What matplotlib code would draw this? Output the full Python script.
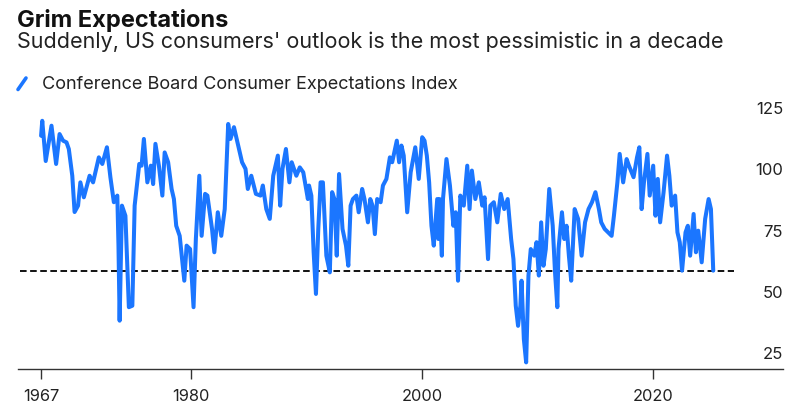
import matplotlib
matplotlib.use("Agg")
import matplotlib.pyplot as plt
from matplotlib.lines import Line2D

# Conference Board Consumer Expectations Index (decimal year, index value)
years = [
    1967.0, 1967.1, 1967.4, 1967.9, 1968.3, 1968.6, 1968.9, 1969.2, 1969.4, 1969.7,
    1969.9, 1970.2, 1970.4, 1970.7, 1971.2, 1971.5, 1972.0, 1972.3, 1972.7, 1973.0,
    1973.3, 1973.6, 1973.7, 1973.8, 1974.0, 1974.3, 1974.6, 1974.9, 1975.1, 1975.5,
    1975.7, 1975.9, 1976.2, 1976.5, 1976.7, 1976.9, 1977.2, 1977.5, 1977.7, 1978.0,
    1978.3, 1978.5, 1978.7, 1979.0, 1979.4, 1979.6, 1979.9, 1980.2, 1980.4, 1980.7,
    1980.9, 1981.2, 1981.4, 1981.8, 1982.0, 1982.3, 1982.6, 1982.9, 1983.2, 1983.4,
    1983.7, 1984.0, 1984.4, 1984.7, 1984.9, 1985.2, 1985.6, 1986.0, 1986.2, 1986.5,
    1986.8, 1987.1, 1987.5, 1987.7, 1987.9, 1988.2, 1988.5, 1988.7, 1989.1, 1989.4,
    1989.7, 1989.9, 1990.1, 1990.2, 1990.4, 1990.6, 1990.8, 1991.0, 1991.2, 1991.4,
    1991.7, 1992.0, 1992.2, 1992.4, 1992.6, 1992.8, 1993.1, 1993.4, 1993.6, 1993.8,
    1994.0, 1994.3, 1994.5, 1994.8, 1995.0, 1995.3, 1995.5, 1995.7, 1995.9, 1996.1,
    1996.4, 1996.6, 1996.9, 1997.2, 1997.4, 1997.8, 1998.0, 1998.2, 1998.4, 1998.7,
    1999.0, 1999.4, 1999.7, 2000.0, 2000.2, 2000.4, 2000.6, 2000.8, 2001.0, 2001.3,
    2001.4, 2001.5, 2001.7, 2001.8, 2002.1, 2002.4, 2002.7, 2002.9, 2003.1, 2003.3,
    2003.6, 2003.9, 2004.1, 2004.3, 2004.6, 2004.9, 2005.2, 2005.4, 2005.7, 2005.9,
    2006.2, 2006.5, 2006.8, 2007.1, 2007.4, 2007.7, 2007.9, 2008.1, 2008.3, 2008.5,
    2008.6, 2008.8, 2009.0, 2009.2, 2009.4, 2009.7, 2009.9, 2010.1, 2010.3, 2010.5,
    2010.7, 2011.0, 2011.3, 2011.5, 2011.7, 2011.8, 2012.1, 2012.3, 2012.5, 2012.7,
    2012.9, 2013.2, 2013.5, 2013.8, 2014.1, 2014.4, 2014.7, 2015.0, 2015.3, 2015.5,
    2015.8, 2016.1, 2016.4, 2016.6, 2016.9, 2017.1, 2017.4, 2017.7, 2017.9, 2018.3,
    2018.6, 2018.8, 2019.0, 2019.2, 2019.5, 2019.7, 2020.0, 2020.2, 2020.4, 2020.6,
    2020.9, 2021.2, 2021.4, 2021.6, 2021.9, 2022.1, 2022.3, 2022.5, 2022.8, 2023.0,
    2023.2, 2023.5, 2023.7, 2023.9, 2024.2, 2024.5, 2024.8, 2025.0, 2025.2,
]
expectations = [
    113.3, 119.4, 103.0, 117.4, 101.8, 114.0, 111.3, 110.6, 107.9, 97.0,
    82.2, 84.8, 94.3, 88.2, 97.0, 94.3, 104.5, 101.8, 108.6, 96.4,
    86.2, 88.9, 68.5, 37.9, 84.8, 80.7, 43.4, 44.0, 84.8, 101.8,
    101.1, 112.0, 94.3, 101.1, 93.6, 110.0, 101.1, 88.9, 106.5, 102.5,
    91.6, 87.5, 76.6, 72.5, 54.2, 68.5, 67.1, 43.4, 71.2, 97.0,
    72.5, 89.6, 88.9, 75.3, 65.8, 82.1, 72.5, 83.4, 118.1, 112.0,
    116.8, 110.6, 102.5, 99.8, 91.6, 97.0, 89.6, 88.9, 93.0, 83.4,
    79.4, 97.0, 105.2, 84.8, 99.8, 107.9, 94.3, 102.5, 97.0, 100.4,
    98.4, 93.0, 87.5, 93.0, 88.9, 65.8, 48.8, 75.3, 94.3, 94.3,
    64.4, 57.6, 90.3, 87.5, 64.4, 97.7, 75.3, 68.5, 60.3, 84.8,
    87.5, 88.9, 82.1, 91.6, 87.5, 78.0, 87.5, 84.8, 73.2, 87.5,
    86.2, 93.0, 95.7, 104.5, 102.5, 111.3, 102.5, 109.3, 105.2, 82.1,
    98.4, 108.6, 95.7, 112.7, 111.3, 105.2, 94.3, 76.6, 68.5, 87.5,
    71.2, 87.5, 64.4, 87.5, 103.8, 93.0, 76.6, 82.1, 54.2, 88.9,
    84.8, 101.1, 83.4, 99.1, 87.5, 94.3, 84.8, 88.2, 63.0, 84.8,
    86.2, 78.0, 89.6, 83.4, 87.5, 71.2, 63.0, 44.0, 35.8, 44.0,
    54.2, 30.4, 20.9, 56.3, 67.1, 64.4, 69.9, 56.3, 78.0, 60.3,
    67.1, 91.6, 76.6, 57.6, 43.4, 67.1, 82.1, 71.2, 76.6, 64.4,
    54.2, 83.4, 79.4, 64.4, 78.0, 83.4, 86.2, 90.3, 83.4, 78.0,
    75.3, 73.9, 72.5, 80.7, 94.3, 105.9, 94.3, 103.8, 101.1, 96.4,
    104.5, 108.6, 83.4, 94.3, 105.9, 88.9, 101.1, 80.7, 95.7, 78.0,
    90.3, 105.2, 97.0, 84.8, 88.9, 73.9, 69.9, 58.3, 73.9, 76.6,
    64.4, 81.4, 65.8, 74.6, 61.7, 79.4, 87.5, 83.4, 58.3,
]

x_ticks = [1967, 1980, 2000, 2020]
y_ticks = [25, 50, 75, 100, 125]

BLUE = "#1b76ff"
W, H = 802, 406
fig = plt.figure(figsize=(W / 100, H / 100), dpi=100)
fig.patch.set_facecolor("white")

FONT = ["Inter", "DejaVu Sans"]

def px(x, y):
    return x / W, 1 - y / H

# plot area
left, right, top, bottom = 18, 783, 95.8, 370
ax = fig.add_axes([left / W, 1 - bottom / H, (right - left) / W, (bottom - top) / H])
ax.set_xlim(1965.0, 2031.24)
ax.set_ylim(18.2, 130)

ax.plot(years, expectations, color=BLUE, lw=2.9, solid_joinstyle="round",
        solid_capstyle="round", zorder=3)

# reference line at the latest reading
last = expectations[-1]
ax.plot([years[0] - 1.8, years[-1] + 1.8], [last, last], color="#111111", lw=1.4,
        dashes=(3.4, 1.8), zorder=2)

for s in ["top", "left", "right"]:
    ax.spines[s].set_visible(False)
ax.spines["bottom"].set_color("#333333")
ax.spines["bottom"].set_linewidth(1.0)

ax.set_xticks(x_ticks)
ax.set_xticklabels([str(t) for t in x_ticks])
ax.tick_params(axis="x", length=7, width=1.0, color="#333333", pad=7,
               labelsize=11.8, labelcolor="#222222")

ax.yaxis.tick_right()
ax.set_yticks(y_ticks)
ax.set_yticklabels([str(t) for t in y_ticks])
ax.tick_params(axis="y", length=0, pad=0, labelsize=12, labelcolor="#222222")
for lbl in ax.get_yticklabels():
    lbl.set_horizontalalignment("right")
    lbl.set_family(FONT)
for lbl in ax.get_xticklabels():
    lbl.set_family(FONT)

# headings
fig.text(*px(17, 27), "Grim Expectations", family=FONT, fontweight="bold",
         fontsize=17, color="#111111", va="baseline", ha="left")
fig.text(*px(17, 48), "Suddenly, US consumers' outlook is the most pessimistic in a decade",
         family=FONT, fontsize=15.5, color="#222222", va="baseline", ha="left")

# legend
fig.add_artist(Line2D([18 / W, 26 / W], [1 - 90.5 / H, 1 - 79 / H], color=BLUE, lw=2.6,
                      solid_capstyle="round", transform=fig.transFigure))
fig.text(*px(42, 89), "Conference Board Consumer Expectations Index", family=FONT,
         fontsize=13, color="#222222", va="baseline", ha="left")

fig.savefig("out.png", dpi=100, facecolor="white")
